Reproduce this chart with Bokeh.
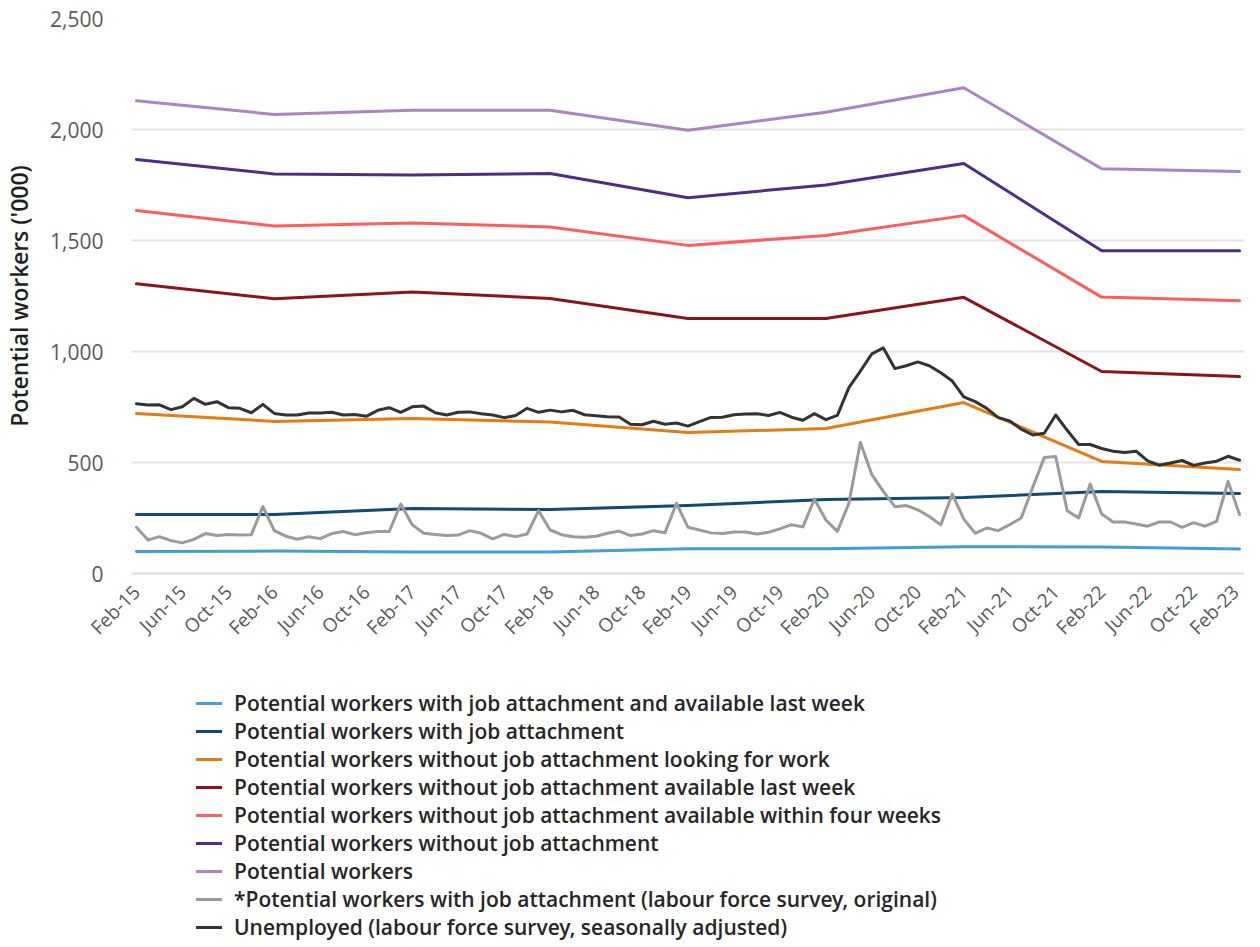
import math
import pandas as pd
from bokeh.plotting import figure
from bokeh.layouts import column
from bokeh.models import FixedTicker, Legend, LegendItem, NumeralTickFormatter, Range1d
from bokeh.embed import file_html
from bokeh.resources import INLINE

# Month categories (x axis)
months = [d.strftime("%b-%y") for d in pd.date_range("2015-02-01", "2023-02-01", freq="MS")]
annual_months = ["Feb-15", "Feb-16", "Feb-17", "Feb-18", "Feb-19", "Feb-20", "Feb-21", "Feb-22", "Feb-23"]
tick_labels = ["Feb-15", "Jun-15", "Oct-15", "Feb-16", "Jun-16", "Oct-16", "Feb-17", "Jun-17", "Oct-17",
               "Feb-18", "Jun-18", "Oct-18", "Feb-19", "Jun-19", "Oct-19", "Feb-20", "Jun-20", "Oct-20",
               "Feb-21", "Jun-21", "Oct-21", "Feb-22", "Jun-22", "Oct-22", "Feb-23"]
y_ticks = [0, 500, 1000, 1500, 2000, 2500]

# Annual series ('000)
attached_avail_last_week = [99, 101, 97, 97, 112, 112, 121, 119, 110]
attached = [266, 266, 293, 288, 306, 333, 342, 369, 360]
without_looking = [721, 685, 698, 682, 635, 653, 770, 505, 468]
without_avail_last_week = [1305, 1238, 1268, 1239, 1149, 1149, 1244, 910, 887]
without_avail_four_weeks = [1635, 1565, 1579, 1561, 1478, 1523, 1612, 1245, 1229]
without_attachment = [1865, 1800, 1795, 1802, 1693, 1750, 1847, 1454, 1454]
potential_workers = [2129, 2068, 2087, 2087, 1997, 2078, 2188, 1823, 1811]

# Monthly series ('000)
lfs_attached_original = [
    208, 151, 166, 148, 138, 154, 180, 171, 176, 173, 175, 302, 193, 168, 154, 166, 157, 180, 189, 175, 184, 189, 189, 313, 220,
    181, 176, 171, 173, 193, 181, 156, 176, 166, 178, 283, 196, 175, 166, 163, 168, 181, 191, 171, 178, 193, 184, 316, 208,
    196, 183, 180, 187, 187, 178, 186, 201, 220, 210, 335, 241, 190, 316, 590, 445, 370, 301, 306, 287, 257, 219, 358, 245,
    181, 205, 193, 220, 250, 388, 522, 527, 283, 250, 403, 268, 232, 232, 223, 213, 232, 232, 208, 229, 213, 235, 415, 265,
]
unemployed_sa = [
    765, 759, 760, 738, 751, 789, 762, 774, 747, 744, 724, 762, 721, 714, 714, 723, 723, 726, 714, 716, 708, 735, 747, 726, 751,
    754, 724, 714, 726, 728, 720, 714, 702, 712, 744, 726, 736, 728, 735, 715, 711, 706, 705, 672, 670, 686, 672, 678, 664,
    684, 703, 704, 715, 719, 720, 712, 726, 704, 690, 720, 693, 712, 837, 912, 989, 1016, 923, 936, 953, 936, 904, 867, 796,
    774, 744, 702, 687, 650, 624, 632, 714, 645, 581, 581, 563, 551, 545, 551, 507, 488, 498, 509, 487, 498, 506, 528, 510,
]

x_month = list(range(len(months)))
x_annual = [months.index(m) for m in annual_months]
x_ticks = [months.index(m) for m in tick_labels]

FONT = "Open Sans"
FONT_SEMI = "Open Sans SemiBold, Open Sans, sans-serif"

p = figure(width=1244, height=669, output_backend="svg", toolbar_location=None,
           x_range=Range1d(-0.43, 96.43), y_range=Range1d(0, 2500),
           min_border_left=117, min_border_right=0, min_border_top=18, min_border_bottom=96)
p.outline_line_color = None

series = [
    ("Potential workers with job attachment and available last week", x_annual, attached_avail_last_week, "#3f9fd6"),
    ("Potential workers with job attachment", x_annual, attached, "#114a73"),
    ("Potential workers without job attachment looking for work", x_annual, without_looking, "#e57c13"),
    ("Potential workers without job attachment available last week", x_annual, without_avail_last_week, "#8c1418"),
    ("Potential workers without job attachment available within four weeks", x_annual, without_avail_four_weeks, "#ff5c5c"),
    ("Potential workers without job attachment", x_annual, without_attachment, "#4f2d87"),
    ("Potential workers", x_annual, potential_workers, "#a985c6"),
    ("*Potential workers with job attachment (labour force survey, original)", x_month, lfs_attached_original, "#9b9b9b"),
    ("Unemployed (labour force survey, seasonally adjusted)", x_month, unemployed_sa, "#333333"),
]

for name, xs, ys, col in series:
    p.line(xs, ys, line_color=col, line_width=3, line_join="round", line_cap="round")

# Axes
p.xaxis.ticker = FixedTicker(ticks=x_ticks)
p.xaxis.major_label_overrides = {i: lab for i, lab in zip(x_ticks, tick_labels)}
p.xaxis.major_label_orientation = math.pi / 4
p.xaxis.axis_line_color = "#d5dbe7"
p.xaxis.axis_line_width = 2
p.xaxis.major_tick_line_color = None
p.xaxis.minor_tick_line_color = None
p.xaxis.major_label_text_font = FONT
p.xaxis.major_label_text_font_size = "19px"
p.xaxis.major_label_text_color = "#595959"
p.xaxis.major_label_standoff = 9

p.yaxis.ticker = FixedTicker(ticks=y_ticks)
p.yaxis.formatter = NumeralTickFormatter(format="0,0")
p.yaxis.axis_line_color = None
p.yaxis.major_tick_line_color = None
p.yaxis.minor_tick_line_color = None
p.yaxis.major_label_text_font = FONT
p.yaxis.major_label_text_font_size = "21px"
p.yaxis.major_label_text_color = "#595959"
p.yaxis.major_label_standoff = 22
p.yaxis.axis_label = "Potential workers ('000)"
p.yaxis.axis_label_text_font = FONT_SEMI
p.yaxis.axis_label_text_font_size = "23px"
p.yaxis.axis_label_text_font_style = "normal"
p.yaxis.axis_label_text_color = "#1f1f1f"
p.yaxis.axis_label_standoff = 12

p.xgrid.grid_line_color = None
p.ygrid.grid_line_color = "#e3e3e3"
p.ygrid.grid_line_width = 2

# Legend panel below the chart (its lines use the same series, clipped outside its empty frame)
pl = figure(width=1244, height=272, output_backend="svg", toolbar_location=None,
            x_range=Range1d(0, 1), y_range=Range1d(0, 1),
            min_border_left=0, min_border_right=0, min_border_top=0, min_border_bottom=0)
pl.axis.visible = False
pl.grid.visible = False
pl.outline_line_color = None

items = []
for name, xs, ys, col in series:
    r = pl.line(xs, ys, line_color=col, line_width=3, line_cap="round")
    items.append(LegendItem(label=name, renderers=[r]))

legend = Legend(items=items, location=(65, 0), orientation="vertical",
                glyph_width=26, glyph_height=28, label_height=28, spacing=0,
                label_standoff=12, padding=0, margin=0, border_line_color=None,
                background_fill_alpha=0,
                label_text_font=FONT_SEMI, label_text_font_size="21px", label_text_color="#262626")
pl.add_layout(legend, "center")

layout = column(p, pl, spacing=0)
open("out.html", "w").write(file_html(layout, INLINE))
